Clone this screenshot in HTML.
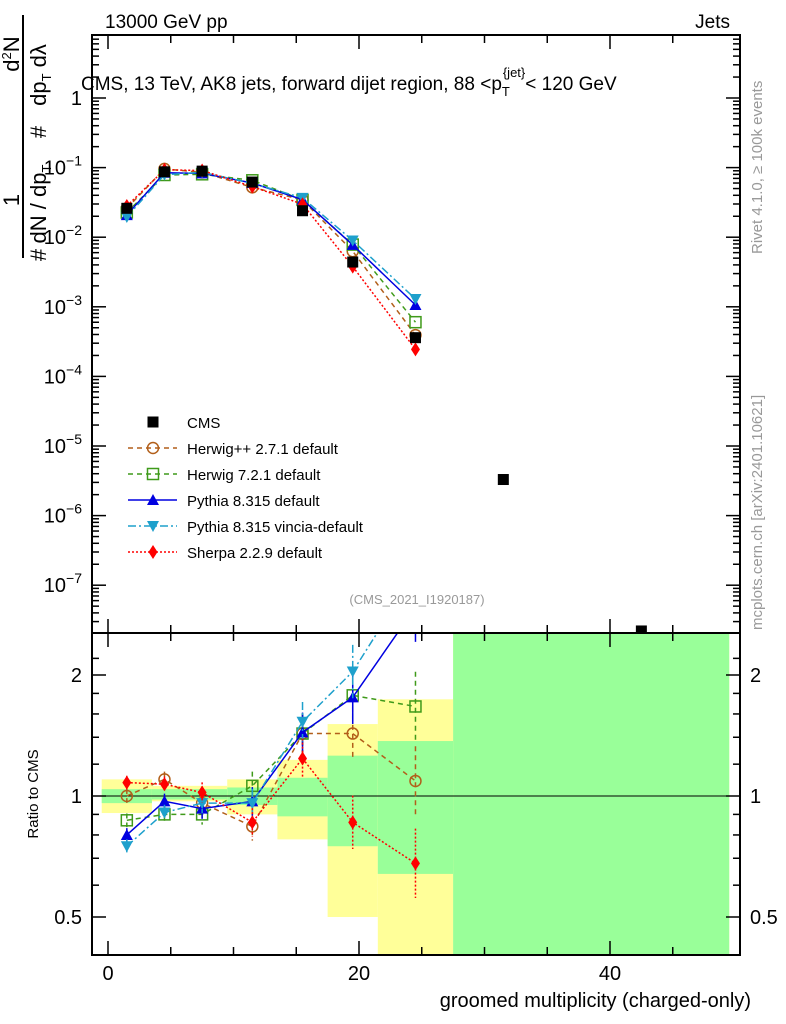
<!DOCTYPE html>
<html><head><meta charset="utf-8"><style>
html,body{margin:0;padding:0;background:#fff;width:786px;height:1024px;overflow:hidden}
svg{display:block;font-family:"Liberation Sans",sans-serif}
</style></head><body>
<svg id="c" width="786" height="1024" viewBox="0 0 786 1024">
<g id="bands"></g>
<g id="main"></g>
<g id="ratio"></g>
<g id="axes"></g>
<text x="105" y="28" font-size="19">13000 GeV pp</text>
<text x="730" y="28" font-size="19" text-anchor="end">Jets</text>
<text x="81" y="90" font-size="19">CMS, 13 TeV, AK8 jets, forward dijet region, 88 &lt;p<tspan font-size="13" dy="6">T</tspan><tspan font-size="13" dy="-19" dx="-7">{jet}</tspan><tspan dy="13">&lt; 120 GeV</tspan></text>
<text x="417" y="604" font-size="13" fill="#999" text-anchor="middle">(CMS_2021_I1920187)</text>
<text transform="translate(762,254) rotate(-90)" font-size="15" fill="#999">Rivet 4.1.0, ≥ 100k events</text>
<text transform="translate(762,630) rotate(-90)" font-size="15" fill="#999">mcplots.cern.ch [arXiv:2401.10621]</text>
<text x="751" y="1007" font-size="20" text-anchor="end">groomed multiplicity (charged-only)</text>
<text transform="translate(38,794) rotate(-90)" font-size="15" text-anchor="middle">Ratio to CMS</text>
<g font-size="22">
<text transform="translate(19,200) rotate(-90)" text-anchor="middle">1</text>
<text transform="translate(19,54) rotate(-90)" text-anchor="middle">d<tspan font-size="13" dy="-8">2</tspan><tspan dy="8">N</tspan></text>
<line x1="23" y1="15" x2="23" y2="258" stroke="#000" stroke-width="2"/>
<text transform="translate(46,255) rotate(-90)" text-anchor="middle">#</text>
<text transform="translate(46,204) rotate(-90)" text-anchor="middle">dN / dp<tspan font-size="13" dy="5">T</tspan></text>
<text transform="translate(46,132) rotate(-90)" text-anchor="middle">#</text>
<text transform="translate(46,75) rotate(-90)" text-anchor="middle">dp<tspan font-size="13" dy="5">T</tspan><tspan dy="-5"> dλ</tspan></text>
</g>
<g id="legend"></g>
</svg>
<script>
const NS="http://www.w3.org/2000/svg";
const xs=[1.5,4.5,7.5,11.5,15.5,19.5,24.5,31.5,42.5];
const cms=[0.026,0.087,0.089,0.062,0.024,0.0044,0.00036,0.0000033,0.000000022];
const rHerwigpp=[1.0,1.10,0.96,0.84,1.43,1.43,1.09];
const rHerwig7=[0.87,0.90,0.90,1.06,1.43,1.78,1.67];
const rPythia=[0.80,0.97,0.93,0.97,1.44,1.76,2.95];
const rVincia=[0.75,0.91,0.96,0.96,1.53,2.04,3.6];
const rSherpa=[1.08,1.07,1.02,0.86,1.24,0.86,0.68];
const binEdges=[-0.5,3.5,9.5,13.5,17.5,21.5,27.5,49.5];
const yelLo=[0.907,0.97,0.90,0.78,0.50,0.3,0.1];
const yelHi=[1.10,1.06,1.10,1.23,1.51,1.74,10];
const grnLo=[0.96,0.98,0.95,0.89,0.75,0.64,0.1];
const grnHi=[1.04,1.04,1.05,1.11,1.26,1.37,10];
const xTicksMajor=[0,20,40];
const L=92,R=740,T=35,M=633,B=955;
const X=v=>108+v*12.55;
const Y=v=>98-69.6*Math.log10(v);
const RY=r=>796-121*Math.log2(r);
const ymin=Math.pow(10,(98-M)/69.6),ymax=Math.pow(10,(98-T)/69.6);
function el(t,a,p){const e=document.createElementNS(NS,t);for(const k in a)e.setAttribute(k,a[k]);p.appendChild(e);return e;}
const defs=el('defs',{},document.getElementById('c'));
const cp1=el('clipPath',{id:'cm'},defs);el('rect',{x:L,y:T,width:R-L,height:M-T},cp1);
const cp2=el('clipPath',{id:'cr'},defs);el('rect',{x:L,y:M,width:R-L,height:B-M},cp2);
const bands=document.getElementById('bands');bands.setAttribute('clip-path','url(#cr)');
for(let i=0;i<yelLo.length;i++){
 const x1=X(binEdges[i]),x2=X(binEdges[i+1]);
 const b1=el('rect',{x:x1,y:RY(yelHi[i]),width:x2-x1,height:RY(yelLo[i])-RY(yelHi[i]),fill:'#ffff99'},bands);
 
 
 const b2=el('rect',{x:x1,y:RY(grnHi[i]),width:x2-x1,height:RY(grnLo[i])-RY(grnHi[i]),fill:'#99ff99'},bands);
 
 
}
const series=[
 {n:'herwigpp',lab:'Herwig++ 2.7.1 default',r:rHerwigpp,c:'#b25f1a',d:'5,4',m:'circ'},
 {n:'herwig7',lab:'Herwig 7.2.1 default',r:rHerwig7,c:'#3f9a1a',d:'5,4',m:'sq'},
 {n:'pythia',lab:'Pythia 8.315 default',r:rPythia,c:'#0000e0',d:'',m:'tri'},
 {n:'vincia',lab:'Pythia 8.315 vincia-default',r:rVincia,c:'#1ea0cc',d:'8,3,2,3',m:'itri'},
 {n:'sherpa',lab:'Sherpa 2.2.9 default',r:rSherpa,c:'#ff0000',d:'2,2',m:'dia'}];
function marker(g,m,x,y,c){
 let e;
 if(m==='circ')e=el('circle',{cx:x,cy:y,r:5.5,fill:'none',stroke:c,'stroke-width':1.5},g);
 else if(m==='sq')e=el('rect',{x:x-5.5,y:y-5.5,width:11,height:11,fill:'none',stroke:c,'stroke-width':1.5},g);
 else if(m==='tri')e=el('polygon',{points:`${x},${y-6} ${x-6},${y+5} ${x+6},${y+5}`,fill:c},g);
 else if(m==='itri')e=el('polygon',{points:`${x},${y+6} ${x-6},${y-5} ${x+6},${y-5}`,fill:c},g);
 else if(m==='dia')e=el('polygon',{points:`${x},${y-7} ${x-4.5},${y} ${x},${y+7} ${x+4.5},${y}`,fill:c},g);
 else e=el('rect',{x:x-5.5,y:y-5.5,width:11,height:11,fill:c},g);
 return e;
}
const main=document.getElementById('main');main.setAttribute('clip-path','url(#cm)');
const ratio=document.getElementById('ratio');ratio.setAttribute('clip-path','url(#cr)');
el('line',{x1:L,x2:R,y1:RY(1),y2:RY(1),stroke:'#000','stroke-width':1},ratio);
series.forEach(s=>{
 const vals=s.r.map((r,i)=>cms[i]*r);
 const g=el('g',{},main);
 
 
 el('polyline',{points:vals.map((v,i)=>X(xs[i])+','+Y(v)).join(' '),fill:'none',stroke:s.c,'stroke-width':1.5,'stroke-dasharray':s.d},g);
 vals.forEach((v,i)=>{const p=marker(g,s.m,X(xs[i]),Y(v),s.c);
  
  });
 const gr=el('g',{},ratio);
 
 
 el('polyline',{points:s.r.map((v,i)=>X(xs[i])+','+RY(v)).join(' '),fill:'none',stroke:s.c,'stroke-width':1.5,'stroke-dasharray':s.d},gr);
 s.r.forEach((v,i)=>{
  const e=0.04+0.02*i*i/4;
  el('line',{x1:X(xs[i]),x2:X(xs[i]),y1:RY(v*(1+e)),y2:RY(v/(1+e)),stroke:s.c,'stroke-width':1.5,'stroke-dasharray':s.d},gr);
  const p=marker(gr,s.m,X(xs[i]),RY(v),s.c);
  
  });
});
const gc=el('g',{},main);


cms.forEach((v,i)=>{const p=marker(gc,'cms',X(xs[i]),Y(v),'#000');
 
 });
// axes
const ax=document.getElementById('axes');
el('rect',{x:L,y:T,width:R-L,height:B-T,fill:'none',stroke:'#000','stroke-width':2},ax);
el('line',{x1:L,x2:R,y1:M,y2:M,stroke:'#000','stroke-width':2},ax);
for(let v=0;v<=45;v+=5){const x=X(v),big=v%20===0,len=big?14:8;
 [T,M].forEach(y0=>el('line',{x1:x,x2:x,y1:y0,y2:y0+len,stroke:'#000','stroke-width':1.5},ax));
 el('line',{x1:x,x2:x,y1:B,y2:B-len,stroke:'#000','stroke-width':1.5},ax);
 el('line',{x1:x,x2:x,y1:M,y2:M-len,stroke:'#000','stroke-width':1.5},ax);}
xTicksMajor.forEach(v=>{const t=el('text',{x:X(v),y:980,'font-size':20,'text-anchor':'middle'},ax);t.textContent=v;
 
 });
for(let e=-8;e<=0;e++){for(let k=1;k<10;k++){const v=k*Math.pow(10,e);if(v<ymin||v>ymax)continue;
 const y=Y(v),len=k===1?14:7;
 el('line',{x1:L,x2:L+len,y1:y,y2:y,stroke:'#000','stroke-width':1.5},ax);
 el('line',{x1:R,x2:R-len,y1:y,y2:y,stroke:'#000','stroke-width':1.5},ax);
 if(k===1){const t=el('text',{x:82,y:y+7,'font-size':20,'text-anchor':'end'},ax);
  
  
  if(e===0)t.textContent='1';else{t.textContent='10';const s=el('tspan',{dy:-9,'font-size':14},t);s.textContent='−'+(-e);}}}}
const rt=[0.4,0.5,0.6,0.7,0.8,0.9,1,1.2,1.4,1.6,1.8,2,2.2];
rt.forEach(v=>{const y=RY(v);if(y<M||y>B)return;const big=(v===0.5||v===1||v===2),len=big?14:7;
 el('line',{x1:L,x2:L+len,y1:y,y2:y,stroke:'#000','stroke-width':1.5},ax);
 el('line',{x1:R,x2:R-len,y1:y,y2:y,stroke:'#000','stroke-width':1.5},ax);
 if(big){[[82,'end'],[750,'start']].forEach(([x,a])=>{const t=el('text',{x:x,y:y+7,'font-size':20,'text-anchor':a},ax);t.textContent=v;
  
  });}});
// legend
const lg=document.getElementById('legend');
const rows=[{lab:'CMS',m:'cms',c:'#000',d:null}].concat(series.map(s=>({lab:s.lab,m:s.m,c:s.c,d:s.d})));
rows.forEach((r,i)=>{const y=422+i*26;
 const g=el('g',{},lg);
 
 
 if(r.d!==null)el('line',{x1:128,x2:177,y1:y,y2:y,stroke:r.c,'stroke-width':1.5,'stroke-dasharray':r.d},g);
 marker(g,r.m,153,y,r.c);
 const t=el('text',{x:187,y:y+6,'font-size':15},g);t.textContent=r.lab;});
</script>
</body></html>
